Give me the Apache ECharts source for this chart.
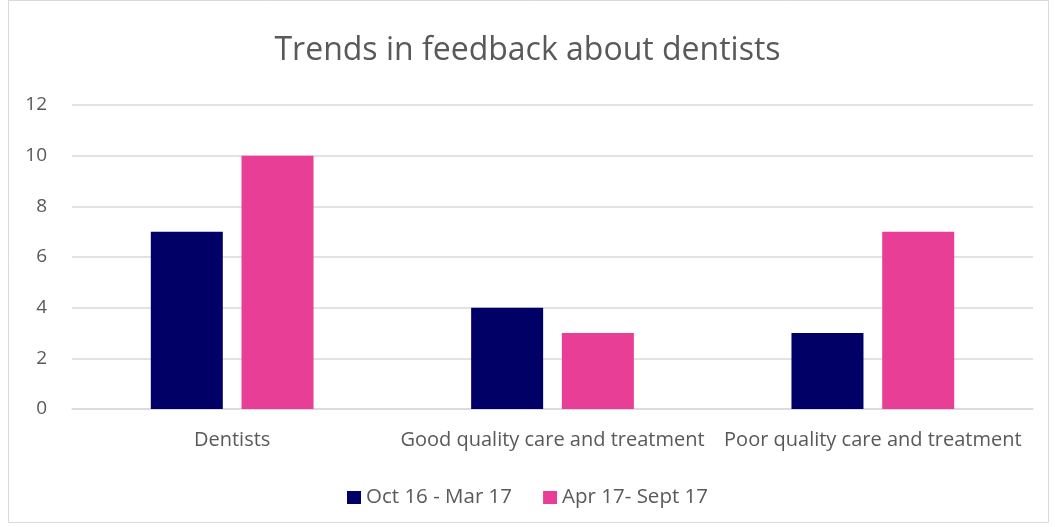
<!DOCTYPE html>
<html>
<head>
    <meta charset="utf-8">
    <title>Trends in feedback about dentists</title>
    <script src="https://cdn.jsdelivr.net/npm/echarts@6/dist/echarts.min.js"></script>
</head>
<body style="margin:0">
<div id="main" style="width:1055px;height:527px"></div>
<script type="text/javascript">
    // data
    var categories = ['Dentists', 'Good quality care and treatment', 'Poor quality care and treatment'];
    var seriesNames = ['Oct 16 - Mar 17', 'Apr 17- Sept 17'];
    var octMar = [7, 4, 3];
    var aprSept = [10, 3, 7];

    var font = 'Open Sans';
    var grey = '#595959';

    var myChart = echarts.init(document.getElementById('main'));

    myChart.setOption({
        textStyle: {fontFamily: font},
        title: {
            text: 'Trends in feedback about dentists',
            left: 'center',
            top: 30,
            textStyle: {fontSize: 32, fontWeight: 'normal', color: grey, fontFamily: font}
        },
        legend: {
            top: 482,
            left: 'center',
            itemWidth: 14,
            itemHeight: 13,
            itemGap: 31,
            icon: 'rect',
            textStyle: {fontSize: 20.5, color: grey},
            data: seriesNames
        },
        // light frame like the original chart area
        graphic: [{
            type: 'rect',
            shape: {x: 8.5, y: 0.5, width: 1040, height: 522},
            style: {fill: 'none', stroke: '#d9d9d9', lineWidth: 1},
            silent: true
        }],
        grid: {left: 72, right: 22, top: 105, bottom: 118},
        xAxis: {
            type: 'category',
            data: categories,
            axisTick: {show: false},
            axisLine: {lineStyle: {color: '#d9d9d9', width: 1.5}},
            axisLabel: {interval: 0, fontSize: 20, color: grey, margin: 21}
        },
        yAxis: {
            type: 'value',
            min: 0,
            max: 12,
            interval: 2,
            axisLabel: {fontSize: 19, color: grey, margin: 25},
            splitLine: {lineStyle: {color: '#d9d9d9', width: 1.5}}
        },
        series: [
            {name: seriesNames[0], type: 'bar', data: octMar, barWidth: 72, barGap: '26%',
                itemStyle: {color: '#000066'}},
            {name: seriesNames[1], type: 'bar', data: aprSept, barWidth: 72,
                itemStyle: {color: '#E83E96'}}
        ]
    });
</script>
</body>
</html>
